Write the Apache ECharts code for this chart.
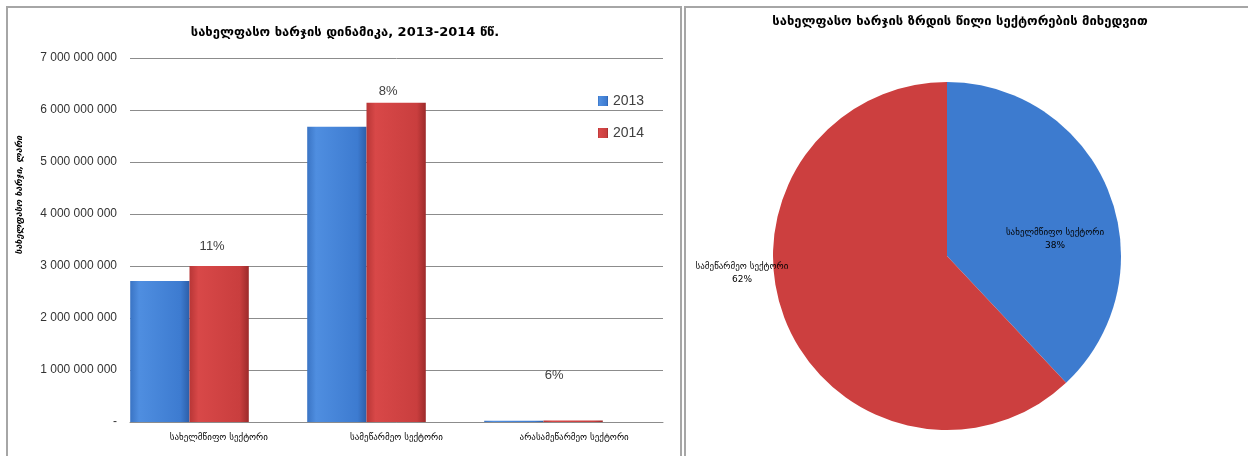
<!DOCTYPE html>
<html>
<head>
<meta charset="utf-8">
<script src="https://cdn.jsdelivr.net/npm/echarts@6/dist/echarts.min.js"></script>
<style>
html,body{margin:0;padding:0;background:#fff;}
#chart{width:1248px;height:456px;}
</style>
</head>
<body>
<div id="chart"></div>
<script>
const categories = ['სახელმწიფო სექტორი', 'სამეწარმეო სექტორი', 'არასამეწარმეო სექტორი'];
const seriesNames = ['2013', '2014'];
const values2013 = [2710000000, 5680000000, 25000000];
const values2014 = [3000000000, 6140000000, 26500000];
const growthLabels = ['11%', '8%', '6%'];
const yTickLabels = ['-', '1 000 000 000', '2 000 000 000', '3 000 000 000', '4 000 000 000', '5 000 000 000', '6 000 000 000', '7 000 000 000'];
const pieNames = ['სახელმწიფო სექტორი', 'სამეწარმეო სექტორი'];
const pieValues = [38, 62];
const barTitle = 'სახელფასო ხარჯის დინამიკა, 2013-2014 წწ.';
const pieTitle = 'სახელფასო ხარჯის ზრდის წილი სექტორების მიხედვით';
const yAxisTitle = 'სახელფასო ხარჯი, ლარი';

const GEO = "'DejaVu Sans', 'Noto Sans', sans-serif";
const NUM = "'Liberation Sans Narrow', 'Liberation Sans', sans-serif";

const blueGrad = new echarts.graphic.LinearGradient(0, 0, 1, 0, [
  {offset: 0, color: '#3a74c4'}, {offset: 0.15, color: '#4f8ee0'}, {offset: 0.85, color: '#3d7bd0'}, {offset: 1, color: '#2c5ea8'}]);
const redGrad = new echarts.graphic.LinearGradient(0, 0, 1, 0, [
  {offset: 0, color: '#b83636'}, {offset: 0.15, color: '#d84848'}, {offset: 0.85, color: '#c93e3e'}, {offset: 1, color: '#9c2a2a'}]);

const labelOffsets = [[-7, -8], [-8, 0], [-19, -34]];
const data2014 = values2014.map((v, i) => ({
  value: v,
  label: {show: true, position: 'top', formatter: growthLabels[i], offset: labelOffsets[i]}
}));

const chart = echarts.init(document.getElementById('chart'), null, {renderer: 'canvas'});
chart.setOption({
  animation: false,
  backgroundColor: '#ffffff',
  graphic: [
    {type: 'rect', shape: {x: 7, y: 7, width: 674, height: 460}, style: {fill: 'none', stroke: '#a6a6a6', lineWidth: 2}},
    {type: 'rect', shape: {x: 685, y: 7, width: 570, height: 460}, style: {fill: 'none', stroke: '#a6a6a6', lineWidth: 2}},
    {type: 'text', x: 345, y: 33, style: {text: barTitle, font: "bold 13px 'DejaVu Sans'", fill: '#000', textAlign: 'center', textVerticalAlign: 'middle'}},
    {type: 'text', x: 960, y: 22, style: {text: pieTitle, font: "bold 13px 'DejaVu Sans'", fill: '#000', textAlign: 'center', textVerticalAlign: 'middle'}},
    {type: 'text', x: 20, y: 195, rotation: Math.PI / 2, style: {text: yAxisTitle, font: "italic bold 9px 'DejaVu Sans'", fill: '#000', textAlign: 'center', textVerticalAlign: 'middle'}}
  ],
  legend: {
    orient: 'vertical', left: 598, top: 94, padding: 0, itemGap: 18, itemWidth: 10, itemHeight: 10,
    icon: 'rect', data: seriesNames,
    textStyle: {fontFamily: NUM, fontSize: 14, color: '#404040'}
  },
  grid: [
    {left: 130, right: 585, top: 58, bottom: 34},
    {left: 101, width: 531, top: 58, bottom: 34}
  ],
  xAxis: [
    {type: 'category', gridIndex: 0, data: categories,
     axisLine: {lineStyle: {color: '#8c8c8c', width: 1}}, axisTick: {show: false},
     axisLabel: {fontFamily: GEO, fontSize: 9, color: '#000', margin: 11}},
    {type: 'category', gridIndex: 1, data: categories, show: false}
  ],
  yAxis: [
    {type: 'value', gridIndex: 0, min: 0, max: 7000000000, interval: 1000000000,
     axisLine: {show: false}, axisTick: {show: false},
     splitLine: {lineStyle: {color: '#8c8c8c', width: 1}},
     axisLabel: {fontFamily: NUM, fontSize: 12, color: '#333333', margin: 13,
       formatter: v => yTickLabels[Math.round(v / 1000000000)]}},
    {type: 'value', gridIndex: 1, min: 0, max: 7000000000, show: false, splitLine: {show: false}}
  ],
  series: [
    {name: '2013', type: 'bar', xAxisIndex: 1, yAxisIndex: 1, data: values2013,
     barGap: '0%', barCategoryGap: '33%', itemStyle: {color: blueGrad}, color: '#3d7bd0'},
    {name: '2014', type: 'bar', xAxisIndex: 1, yAxisIndex: 1, data: data2014,
     barGap: '0%', barCategoryGap: '33%', itemStyle: {color: redGrad}, color: '#c93e3e',
     label: {fontFamily: NUM, fontSize: 13, color: '#404040'}},
    {type: 'pie', center: [947, 256], radius: 174, startAngle: 90, clockwise: true,
     data: pieNames.map((n, i) => ({name: n, value: pieValues[i]})),
     color: ['#3d7bcf', '#cc3f3f'],
     itemStyle: {borderColor: '#ffffff', borderWidth: 0},
     label: {position: 'inside', formatter: p => p.name + '\n' + p.value + '%',
       fontFamily: GEO, fontSize: 9, color: '#000', lineHeight: 13},
     labelLine: {show: false},
     labelLayout: p => p.dataIndex === 0 ? {x: 1055, y: 239, align: 'center', verticalAlign: 'middle'} : {x: 742, y: 273, align: 'center', verticalAlign: 'middle'}
    }
  ]
});
</script>
</body>
</html>
